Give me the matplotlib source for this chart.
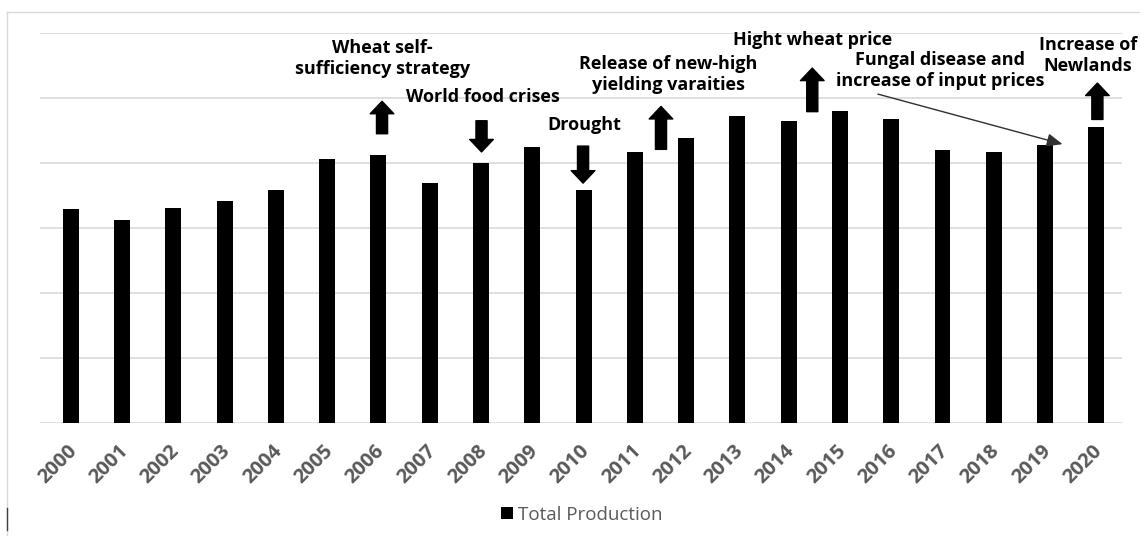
import matplotlib
matplotlib.use("Agg")
import matplotlib.pyplot as plt
import matplotlib.transforms as mtransforms
from matplotlib.lines import Line2D

# 数据：年度小麦总产量（图中无刻度值，按网格单位估读）
years = [str(y) for y in range(2000, 2021)]
production = [3.29, 3.12, 3.31, 3.42, 3.58, 4.06, 4.13, 3.69, 4.00, 4.25, 3.58,
              4.17, 4.39, 4.72, 4.64, 4.80, 4.67, 4.20, 4.17, 4.28, 4.55]

# 事件标注: (文本, x位置(类别单位), y位置)
events = [
    ("Wheat self-\nsufficiency strategy", 6.08, 5.61),
    ("World food crises", 8.04, 5.02),
    ("Drought", 10.01, 4.58),
    ("Release of new-high\nyielding varaities", 11.65, 5.36),
    ("Hight wheat price", 14.46, 5.89),
    ("Fungal disease and\nincrease of input prices", 16.96, 5.42),
    ("Increase of\nNewlands", 19.84, 5.65),
]

# 块状箭头: (x, 起点y, 箭头尖y)
block_arrows = [
    (6.07, 4.45, 4.95),
    (8.01, 4.65, 4.17),
    (9.99, 4.26, 3.69),
    (11.51, 4.21, 4.87),
    (14.46, 4.79, 5.46),
    (20.02, 4.67, 5.23),
]

plt.rcParams['font.family'] = ['Open Sans', 'DejaVu Sans']

fig = plt.figure(figsize=(11.4, 5.36), dpi=100)
ax = fig.add_axes([40 / 1140, 1 - 423 / 536, 1082 / 1140, 390 / 536])

x = list(range(len(years)))
ax.bar(x, production, width=0.31, color='black', label='Total Production', zorder=3)

ax.set_xlim(-0.6, 20.5)
ax.set_ylim(0, 6)
ax.set_yticks(range(0, 7))
ax.set_yticklabels([])
ax.yaxis.grid(True, color='#d9d9d9', linewidth=1.2, zorder=0)
ax.tick_params(axis='both', length=0)
for s in ax.spines.values():
    s.set_visible(False)

ax.set_xticks(x)
ax.set_xticklabels(years, rotation=45, ha='right', rotation_mode='anchor',
                   fontsize=14.5, fontweight='bold', color='#595959')
ax.tick_params(axis='x', pad=13)
shift = mtransforms.ScaledTranslation(-4 / 100, 0, fig.dpi_scale_trans)
for lab in ax.get_xticklabels():
    lab.set_transform(lab.get_transform() + shift)

for txt, tx, ty in events:
    ax.text(tx, ty, txt, ha='center', va='center', fontsize=13,
            fontweight='bold', color='black', linespacing=1.22, clip_on=False)

for bx, y0, y1 in block_arrows:
    ax.annotate('', xy=(bx, y1), xytext=(bx, y0),
                arrowprops=dict(arrowstyle='simple,head_length=0.45,head_width=0.85,tail_width=0.4',
                                color='black', shrinkA=0, shrinkB=0, mutation_scale=20),
                annotation_clip=False)

# 真菌病害的细线箭头
ax.annotate('', xy=(19.34, 4.29), xytext=(15.74, 5.06),
            arrowprops=dict(arrowstyle='-|>,head_length=0.95,head_width=0.4',
                            color='#303030', lw=1, shrinkA=0, shrinkB=0, mutation_scale=10),
            annotation_clip=False)

ax.legend(loc='center', bbox_to_anchor=(582 / 1140, 1 - 515 / 536),
          bbox_transform=fig.transFigure, frameon=False, fontsize=13.5,
          labelcolor='#595959', handlelength=0.6, handleheight=0.6, handletextpad=0.3)

# 外框线（左、上）
fig.add_artist(Line2D([7 / 1140, 7 / 1140], [1 - 12 / 536, 0], color='#d9d9d9', lw=1))
fig.add_artist(Line2D([7 / 1140, 1], [1 - 12 / 536, 1 - 12 / 536], color='#d9d9d9', lw=1))
fig.add_artist(Line2D([7 / 1140, 7 / 1140], [1 - 508 / 536, 1 - 530 / 536], color='#404040', lw=1))

fig.savefig('out.png', dpi=100)
